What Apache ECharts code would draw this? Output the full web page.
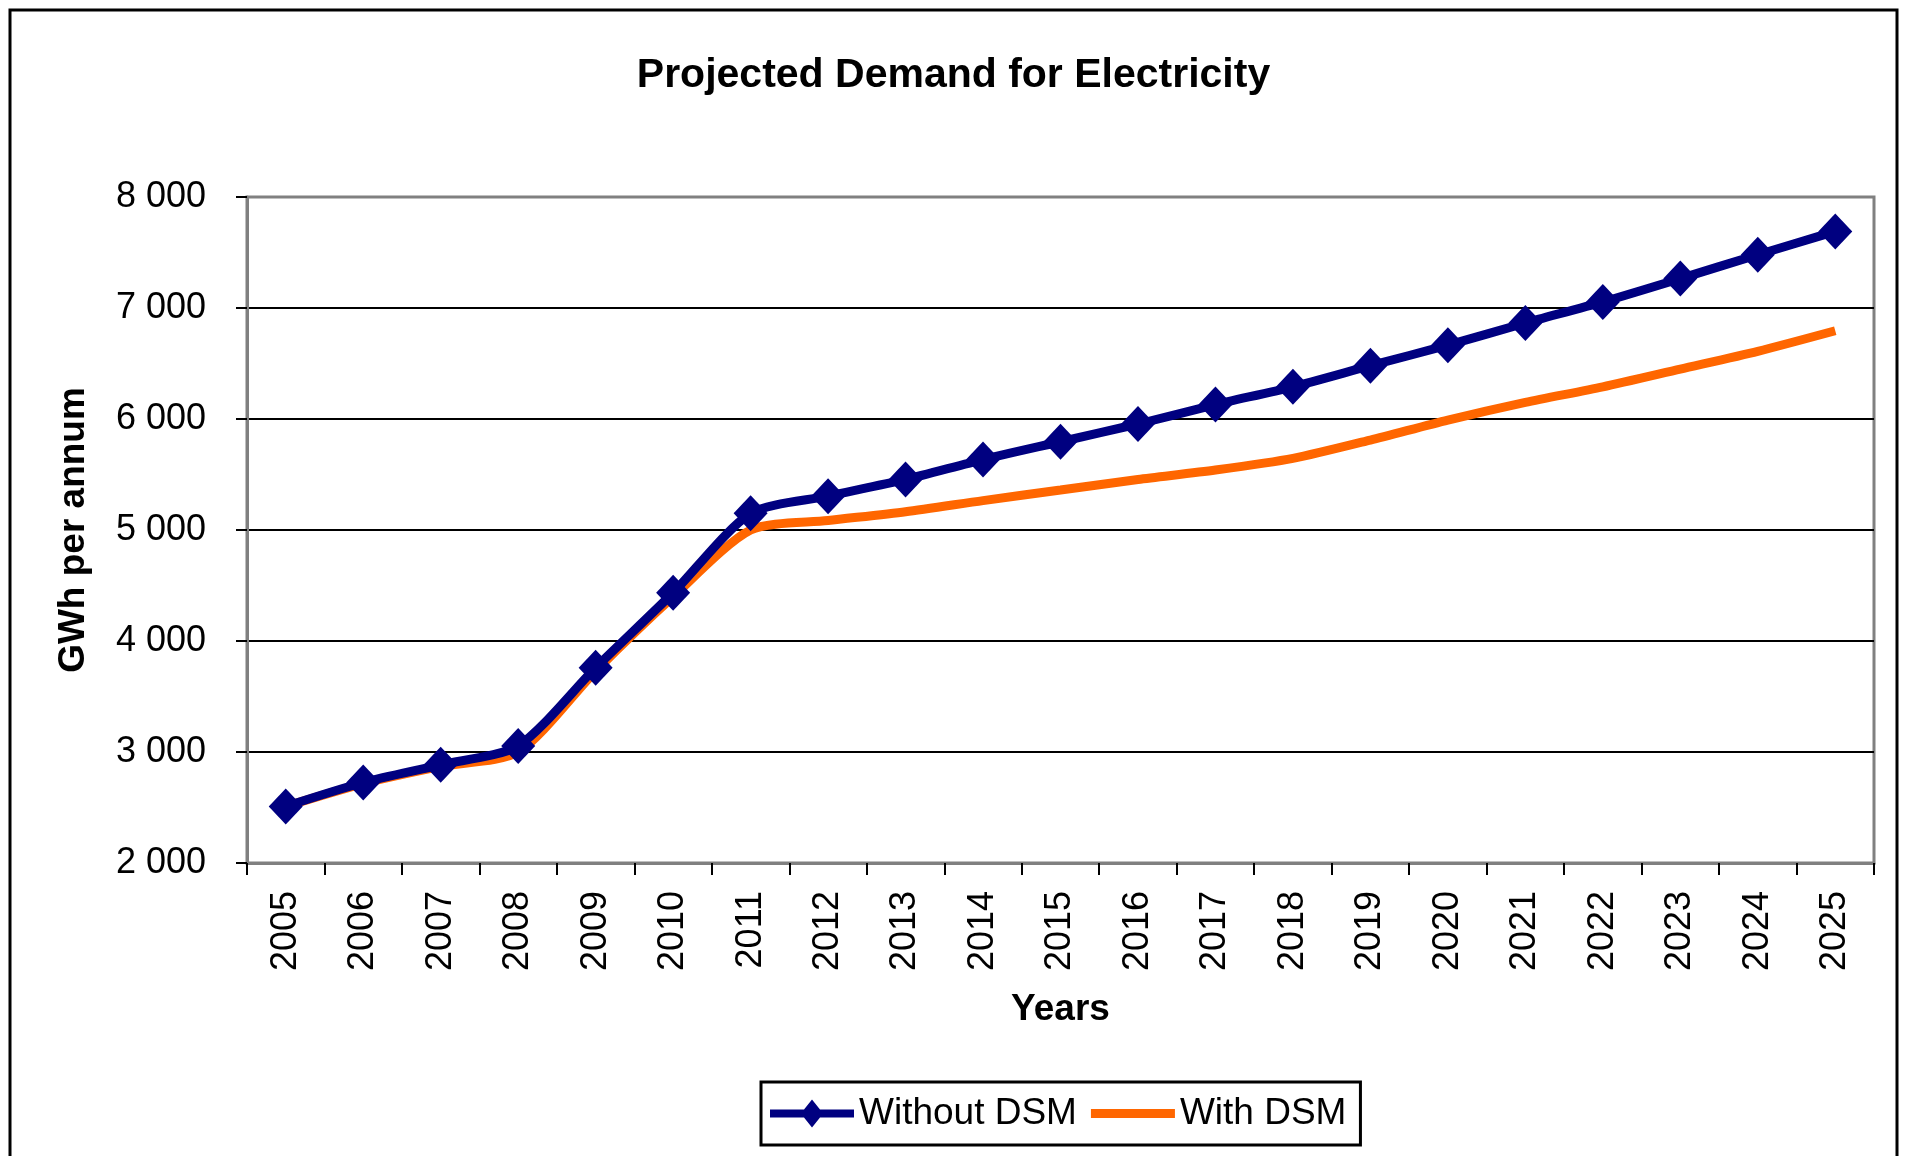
<!DOCTYPE html>
<html>
<head>
<meta charset="utf-8">
<title>Projected Demand for Electricity</title>
<script src="https://cdn.jsdelivr.net/npm/echarts@6/dist/echarts.min.js"></script>
<style>
  html, body { margin: 0; padding: 0; background: #ffffff; }
  #chart { width: 1907px; height: 1156px; }
</style>
</head>
<body>
<div id="chart"></div>
<script>
// Years on the horizontal axis
const years = ['2005', '2006', '2007', '2008', '2009', '2010', '2011', '2012', '2013', '2014', '2015',
               '2016', '2017', '2018', '2019', '2020', '2021', '2022', '2023', '2024', '2025'];

// Projected demand, GWh per annum
const withoutDSM = [2510, 2725, 2885, 3055, 3760, 4435, 5150, 5305, 5455, 5635, 5795,
                    5955, 6130, 6290, 6480, 6665, 6865, 7055, 7265, 7480, 7690];
const withDSM    = [2510, 2715, 2870, 3000, 3730, 4400, 5000, 5085, 5165, 5265, 5360,
                    5455, 5540, 5645, 5810, 5990, 6150, 6290, 6450, 6610, 6795];

// Value axis range and step
const yMin = 2000, yMax = 8000, yStep = 1000;

const FONT = '"Liberation Sans", Arial, sans-serif';
const NAVY = '#000080';
const ORANGE = '#FF6600';

// Legend keys: a thick line with a slim diamond, and a plain thick line
const ICON_LINE_DIAMOND = 'path://M0,10 H34 L42,0 L50,10 H84 V18 H50 L42,28 L34,18 H0 Z';
const ICON_LINE = 'path://M0,0 H84 V9 H0 Z';

const chart = echarts.init(document.getElementById('chart'), null, { renderer: 'canvas' });

function groupThousands(v) {
  return String(v).replace(/\B(?=(\d{3})+(?!\d))/g, ' ');
}

chart.setOption({
  backgroundColor: '#ffffff',
  animation: false,
  textStyle: { fontFamily: FONT, color: '#000' },
  title: {
    text: 'Projected Demand for Electricity',
    left: 'center',
    top: 50,
    textStyle: { fontFamily: FONT, fontSize: 41, fontWeight: 'bold', color: '#000' }
  },
  graphic: [{
    type: 'rect',
    z: 100,
    shape: { x: 10, y: 10, width: 1887, height: 1200 },
    style: { fill: 'none', stroke: '#000', lineWidth: 3 }
  }],
  legend: {
    left: 761,
    top: 1082,
    orient: 'horizontal',
    data: [
      { name: 'Without DSM', icon: ICON_LINE_DIAMOND },
      { name: 'With DSM', icon: ICON_LINE }
    ],
    itemWidth: 84,
    itemHeight: 34,
    itemGap: 14,
    padding: [13, 14, 13, 9],
    borderColor: '#000',
    borderWidth: 3,
    backgroundColor: '#fff',
    textStyle: { fontFamily: FONT, fontSize: 37, color: '#000', padding: [0, 0, 0, 0] }
  },
  grid: {
    left: 247,
    right: 33,
    top: 197,
    bottom: 293,
    show: true,
    borderColor: '#808080',
    borderWidth: 3,
    backgroundColor: '#fff'
  },
  xAxis: {
    type: 'category',
    data: years,
    boundaryGap: true,
    name: 'Years',
    nameLocation: 'middle',
    nameGap: 128,
    nameTextStyle: { fontFamily: FONT, fontSize: 37, fontWeight: 'bold', color: '#000' },
    axisLine: { show: true, lineStyle: { color: '#808080', width: 3 } },
    axisTick: { show: true, inside: false, length: 12, alignWithLabel: false,
                lineStyle: { color: '#000', width: 2 } },
    axisLabel: { rotate: 90, margin: 28, fontFamily: FONT, fontSize: 36, color: '#000', interval: 0 },
    splitLine: { show: false }
  },
  yAxis: {
    type: 'value',
    min: yMin,
    max: yMax,
    interval: yStep,
    name: 'GWh per annum',
    nameLocation: 'middle',
    nameGap: 155,
    nameTextStyle: { fontFamily: FONT, fontSize: 37, fontWeight: 'bold', color: '#000' },
    axisLine: { show: true, lineStyle: { color: '#808080', width: 3 } },
    axisTick: { show: true, inside: false, length: 11, lineStyle: { color: '#000', width: 2 } },
    axisLabel: { margin: 41, fontFamily: FONT, fontSize: 36, color: '#000', formatter: groupThousands },
    splitLine: { show: true, showMinLine: false, showMaxLine: false,
                 lineStyle: { color: '#000', width: 2 } }
  },
  series: [
    {
      name: 'Without DSM',
      type: 'line',
      data: withoutDSM,
      z: 4,
      smooth: 0.25,
      symbol: 'diamond',
      symbolSize: [34, 36],
      showAllSymbol: true,
      itemStyle: { color: NAVY, borderColor: NAVY, borderWidth: 0 },
      lineStyle: { color: NAVY, width: 9 }
    },
    {
      name: 'With DSM',
      type: 'line',
      data: withDSM,
      z: 3,
      smooth: 0.25,
      symbol: 'none',
      showSymbol: false,
      itemStyle: { color: ORANGE },
      lineStyle: { color: ORANGE, width: 9 }
    }
  ]
});
</script>
</body>
</html>
